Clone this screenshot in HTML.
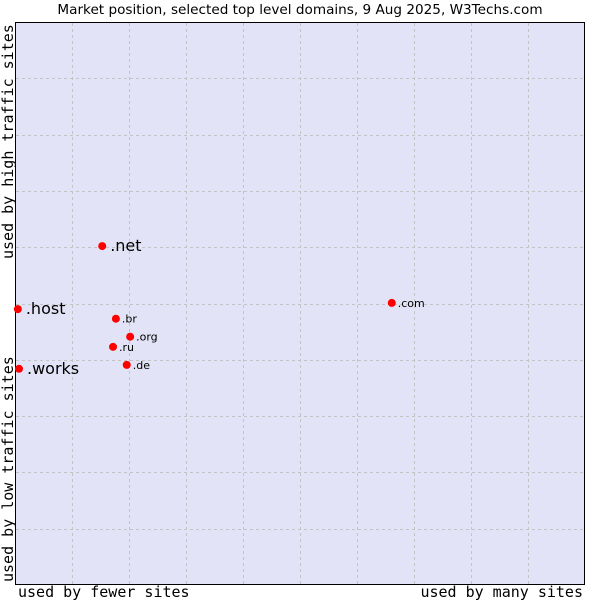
<!DOCTYPE html>
<html><head><meta charset="utf-8"><style>
body{margin:0;background:#fff;}
svg{display:block;font-family:"DejaVu Sans","Liberation Sans",sans-serif;}
</style></head><body>
<svg id="chart" width="600" height="600" viewBox="0 0 600 600" xmlns="http://www.w3.org/2000/svg">
<text x="300" y="14" text-anchor="middle" font-size="13.6" fill="#000">Market position, selected top level domains, 9 Aug 2025, W3Techs.com</text>
<rect x="15.5" y="22.5" width="569" height="562" fill="#e3e3f7" stroke="#000" stroke-width="1"/>
<g id="grid"></g>
<g id="points"></g>
<text x="18" y="597" font-family="DejaVu Sans Mono,Liberation Mono,monospace" font-size="15">used by fewer sites</text>
<text x="583" y="597" text-anchor="end" font-family="DejaVu Sans Mono,Liberation Mono,monospace" font-size="15">used by many sites</text>
<text transform="translate(13,259) rotate(-90)" font-family="DejaVu Sans Mono,Liberation Mono,monospace" font-size="15">used by high traffic sites</text>
<text transform="translate(13,582) rotate(-90)" font-family="DejaVu Sans Mono,Liberation Mono,monospace" font-size="15">used by low traffic sites</text>
</svg>
<script>
const labels = [".net", ".host", ".works", ".com", ".br", ".org", ".ru", ".de"];
const xValues = [15.3, 0.5, 0.7, 66.1, 17.7, 20.2, 17.2, 19.6];
const yValues = [60.2, 49.0, 38.4, 50.1, 47.3, 44.1, 42.3, 39.1];
const bigLabel = [true, true, true, false, false, false, false, false];
const L=15, R=585, T=22, B=585;
const sx = v => L + v/100*(R-L);
const sy = v => B - v/100*(B-T);
const ns="http://www.w3.org/2000/svg";
const grid=document.getElementById('grid');
for(let i=1;i<10;i++){
  const x=Math.round(sx(i*10))+0.5, y=Math.round(sy(i*10))+0.5;
  const v=document.createElementNS(ns,'line');
  
  
  v.setAttribute('x1',x);v.setAttribute('x2',x);v.setAttribute('y1',T+1);v.setAttribute('y2',B);
  v.setAttribute('stroke','#c4c4c4');v.setAttribute('stroke-dasharray','3,3');
  grid.appendChild(v);
  const h=document.createElementNS(ns,'line');
  
  
  h.setAttribute('y1',y);h.setAttribute('y2',y);h.setAttribute('x1',L+1);h.setAttribute('x2',R);
  h.setAttribute('stroke','#c4c4c4');h.setAttribute('stroke-dasharray','3,3');
  grid.appendChild(h);
}
const pts=document.getElementById('points');
labels.forEach((lab,i)=>{
  const x=sx(xValues[i]), y=sy(yValues[i]);
  const c=document.createElementNS(ns,'circle');
  
  
  c.setAttribute('cx',x);c.setAttribute('cy',y);c.setAttribute('r',4);c.setAttribute('fill','#f00');
  pts.appendChild(c);
  const t=document.createElementNS(ns,'text');
  
  
  t.setAttribute('x',x+(bigLabel[i]?8:6));t.setAttribute('y',y+(bigLabel[i]?5:4));
  t.setAttribute('font-size',bigLabel[i]?16:11);
  t.textContent=lab;
  pts.appendChild(t);
});
</script>
</body></html>
